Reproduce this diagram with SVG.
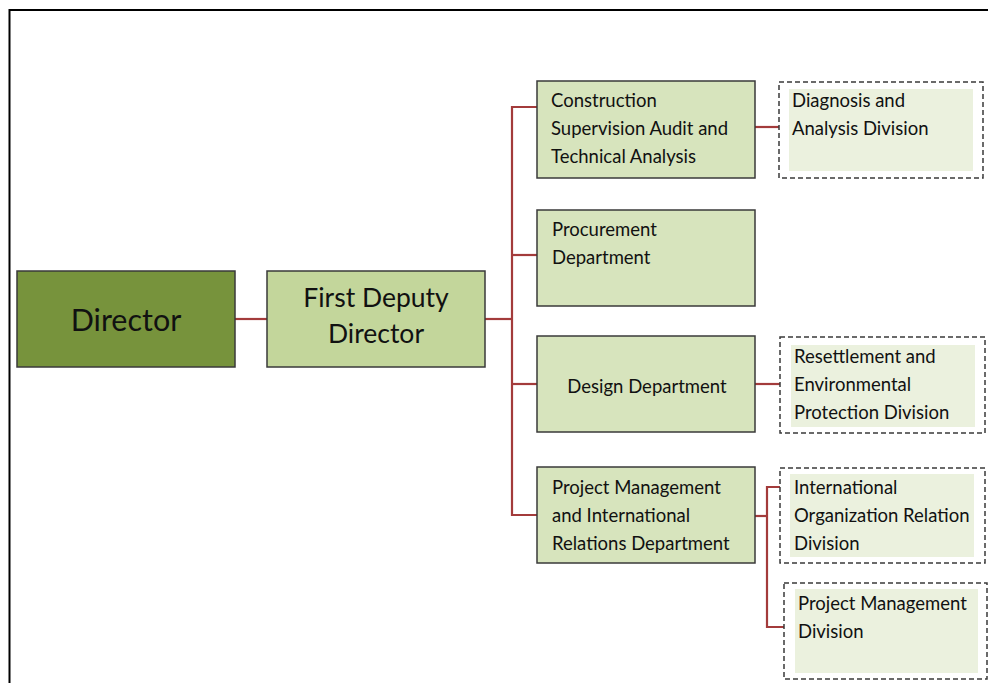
<svg xmlns="http://www.w3.org/2000/svg" width="988" height="683" viewBox="0 0 988 683">
<style>
text{font-family:Lato,"Liberation Sans",sans-serif;fill:#111;}
.box{stroke:#3a3a3a;stroke-width:1.5;}
.dept{fill:#d7e4bd;}
.dash{fill:#fff;stroke:#3a3a3a;stroke-width:1.5;stroke-dasharray:5,3;}
.inner{fill:#ebf1de;}
.t{font-size:18.5px;}
.conn{fill:none;stroke:#a33b3b;stroke-width:2.2;}
</style>
<rect x="0" y="0" width="988" height="683" fill="#fff"/>
<path d="M9.5,683 V10 H988" fill="none" stroke="#000" stroke-width="2"/>
<g id="connectors">
<path class="conn" d="M235,319 H267"/>
<path class="conn" d="M485,319 H512"/>
<path class="conn" d="M537,107 H512 V515 H537"/>
<path class="conn" d="M512,255 H537"/>
<path class="conn" d="M512,384 H537"/>
<path class="conn" d="M755,127 H779"/>
<path class="conn" d="M755,384 H780"/>
<path class="conn" d="M755,516 H767"/>
<path class="conn" d="M780,487 H767 V627 H784"/>
</g>
<g id="director">
<rect class="box" x="17" y="271" width="218" height="96" fill="#77933c"/>
<text x="126" y="331" font-size="30.5" text-anchor="middle">Director</text>
</g>
<g id="first-deputy">
<rect class="box" x="267" y="271" width="218" height="96" fill="#c3d69b"/>
<text x="376" y="307" font-size="26.5" text-anchor="middle">First Deputy</text>
<text x="376" y="343" font-size="26.5" text-anchor="middle">Director</text>
</g>
<g id="construction">
<rect class="box dept" x="537" y="81" width="218" height="97"/>
<text class="t" x="551" y="107">Construction</text>
<text class="t" x="551" y="135">Supervision Audit and</text>
<text class="t" x="551" y="163">Technical Analysis</text>
</g>
<g id="procurement">
<rect class="box dept" x="537" y="210" width="218" height="96"/>
<text class="t" x="552" y="236">Procurement</text>
<text class="t" x="552" y="264">Department</text>
</g>
<g id="design">
<rect class="box dept" x="537" y="336" width="218" height="96"/>
<text class="t" x="647" y="393" text-anchor="middle">Design Department</text>
</g>
<g id="project-intl">
<rect class="box dept" x="537" y="467" width="218" height="96"/>
<text class="t" x="552" y="494">Project Management</text>
<text class="t" x="552" y="522">and International</text>
<text class="t" x="552" y="550">Relations Department</text>
</g>
<g id="diagnosis">
<rect class="dash" x="779" y="82" width="204" height="96"/>
<rect class="inner" x="789" y="89" width="184" height="82"/>
<text class="t" x="792" y="107">Diagnosis and</text>
<text class="t" x="792" y="135">Analysis Division</text>
</g>
<g id="resettlement">
<rect class="dash" x="780" y="337" width="205" height="96"/>
<rect class="inner" x="791" y="345" width="184" height="82"/>
<text class="t" x="794" y="363">Resettlement and</text>
<text class="t" x="794" y="391">Environmental</text>
<text class="t" x="794" y="419">Protection Division</text>
</g>
<g id="intl-org">
<rect class="dash" x="780" y="468" width="205" height="95"/>
<rect class="inner" x="790" y="474" width="184" height="83"/>
<text class="t" x="794" y="494">International</text>
<text class="t" x="794" y="522">Organization Relation</text>
<text class="t" x="794" y="550">Division</text>
</g>
<g id="pm-division">
<rect class="dash" x="784" y="583" width="203" height="96"/>
<rect class="inner" x="795" y="589" width="183" height="84"/>
<text class="t" x="798" y="610">Project Management</text>
<text class="t" x="798" y="638">Division</text>
</g>
</svg>
